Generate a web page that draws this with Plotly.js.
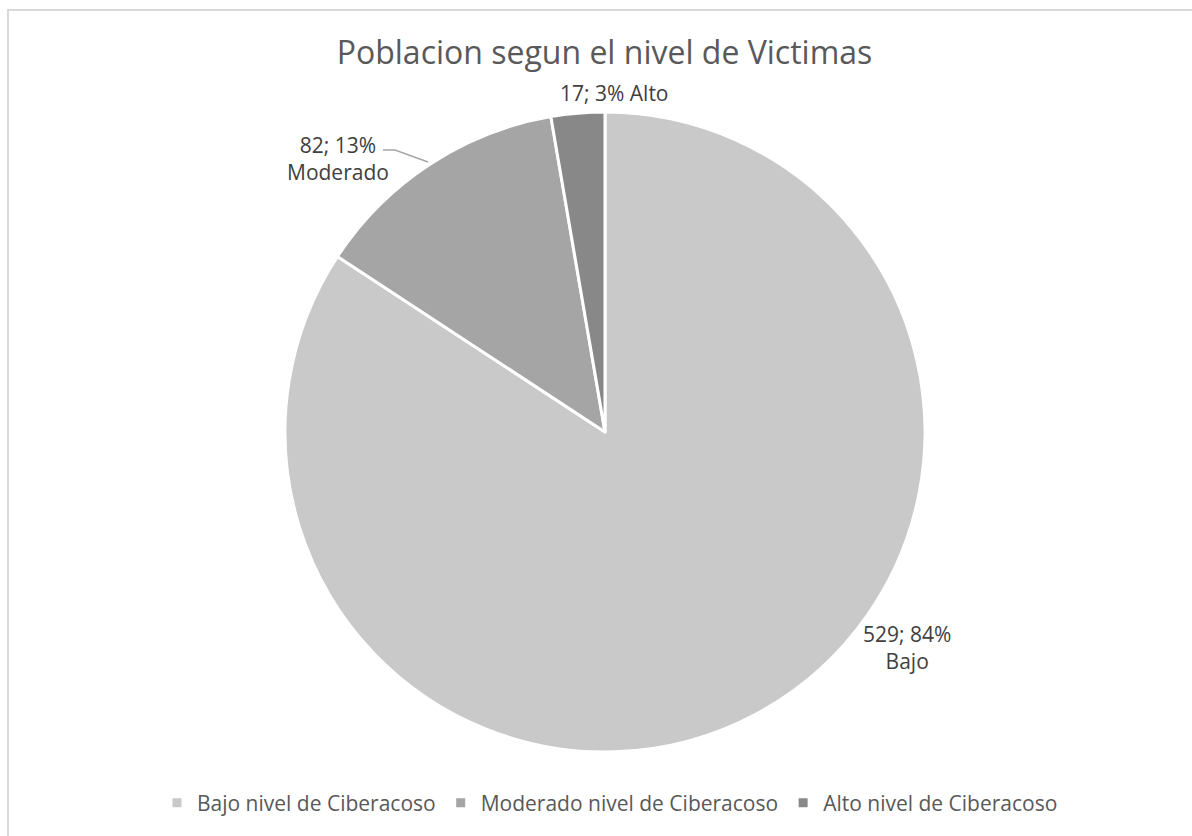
<!DOCTYPE html>
<html>
<head>
<meta charset="utf-8">
<script src="https://cdn.plot.ly/plotly-3.0.1.min.js"></script>
<style>
html,body{margin:0;padding:0;background:#fff;overflow:hidden;}
#wrap{position:relative;width:1192px;height:836px;}
#chart{position:absolute;left:0;top:0;width:1192px;height:836px;}
#frame{position:absolute;left:7px;top:9px;width:1200px;height:900px;border:2px solid #d9d9d9;pointer-events:none;box-sizing:border-box;}
</style>
</head>
<body>
<div id="wrap"><div id="chart"></div><div id="frame"></div></div>
<script>
const categories = ["Bajo nivel de Ciberacoso", "Moderado nivel de Ciberacoso", "Alto nivel de Ciberacoso"];
const shortLabels = ["Bajo", "Moderado", "Alto"];
const values = [529, 82, 17];
const percents = ["84%", "13%", "3%"];
const colors = ["#c9c9c9", "#a5a5a5", "#888888"];

const W = 1192, H = 836;
const px = x => x / W;
const py = y => (H - y) / H;

const labelFont = {family: "Open Sans, sans-serif", size: 21, color: "#404040"};

const annotations = [
  {x: px(907), y: py(647), text: values[0] + "; " + percents[0] + "<br>" + shortLabels[0]},
  {x: px(338), y: py(159), text: values[1] + "; " + percents[1] + "<br>" + shortLabels[1]},
  {x: px(614), y: py(93), text: values[2] + "; " + percents[2] + " " + shortLabels[2]}
].map(a => Object.assign(a, {xref: "paper", yref: "paper", showarrow: false, xanchor: "center", yanchor: "middle", align: "center", font: labelFont}));

const data = [{
  type: "pie",
  labels: categories,
  values: values,
  sort: false,
  direction: "clockwise",
  rotation: 0,
  marker: {colors: colors, line: {color: "#ffffff", width: 3}},
  textinfo: "none",
  hoverinfo: "label+value+percent",
  domain: {x: [px(285), px(925)], y: [py(752), py(112)]}
}];

const layout = {
  width: W, height: H,
  margin: {l: 0, r: 0, t: 0, b: 0},
  paper_bgcolor: "rgba(0,0,0,0)",
  plot_bgcolor: "rgba(0,0,0,0)",
  title: {text: "Poblacion segun el nivel de Victimas", x: px(604.5), xanchor: "center", y: py(53), yanchor: "middle", font: {family: "Open Sans, sans-serif", size: 32, color: "#595959"}},
  showlegend: true,
  legend: {orientation: "h", x: px(610), xanchor: "center", y: py(803), yanchor: "middle", font: {family: "Open Sans, sans-serif", size: 21, color: "#595959"}, itemwidth: 30, tracegroupgap: 0},
  annotations: annotations,
  shapes: [{type: "path", xref: "paper", yref: "paper", path: "M " + px(383) + "," + py(150) + " L " + px(395) + "," + py(150) + " L " + px(428) + "," + py(162), line: {color: "#a6a6a6", width: 1.5}}]
};

Plotly.newPlot("chart", data, layout, {displayModeBar: false, staticPlot: true});
</script>
</body>
</html>
